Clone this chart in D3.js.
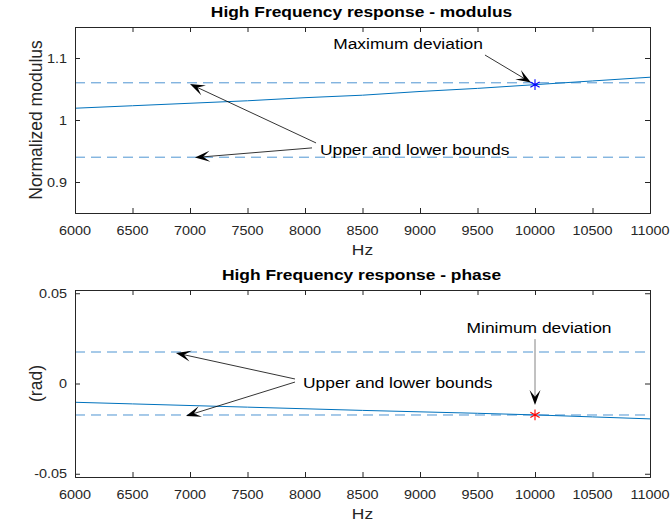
<!DOCTYPE html>
<html>
<head>
<meta charset="utf-8">
<script src="https://cdn.jsdelivr.net/npm/d3@7"></script>
<style>
  body { margin: 0; background: #fff; }
  svg { display: block; font-family: "Liberation Sans", Arial, sans-serif; }
</style>
</head>
<body>
<div class="graph"></div>
<script>
// data
const freqHz = [6000, 6500, 7000, 7500, 8000, 8500, 9000, 9500, 10000, 10500, 11000];
const modulusValues = [1.019, 1.023, 1.027, 1.031, 1.036, 1.040, 1.046, 1.051, 1.057, 1.063, 1.069];
const phaseValues = [-0.0104, -0.0113, -0.0122, -0.0131, -0.0140, -0.0149, -0.0157, -0.0165, -0.0174, -0.0185, -0.0196];
const modulusBounds = [0.94, 1.06];
const phaseBounds = [-0.01745, 0.01745];
const maxDeviation = [10000, 1.057];
const minDeviation = [10000, -0.0174];
const xTicks = [6000, 6500, 7000, 7500, 8000, 8500, 9000, 9500, 10000, 10500, 11000];
const modulusTicks = [0.9, 1, 1.1];
const modulusTickLabels = ["0.9", "1", "1.1"];
const phaseTicks = [-0.05, 0, 0.05];
const phaseTickLabels = ["-0.05", "0", "0.05"];

const width = 670, height = 529;
const left = 75, right = 650;
const sx = 1.2; // text in the picture is a bit wider than normal

const svg = d3.select(".graph").append("svg")
  .attr("width", width).attr("height", height);
svg.append("rect").attr("width", width).attr("height", height).attr("fill", "#fff");

function addText(g, x, y, str, opts) {
  return g.append("text")
    .attr("transform", "translate(" + x + "," + y + ") scale(" + sx + ",1)")
    .attr("text-anchor", opts.anchor || "middle")
    .attr("font-size", opts.size || 12)
    .attr("font-weight", opts.bold ? "bold" : null)
    .attr("fill", opts.color || "#262626")
    .text(str);
}

function arrow(g, x0, y0, x1, y1, color) {
  const ang = Math.atan2(y1 - y0, x1 - x0);
  const L = 15, W = 11, notch = 0.55 * L;
  const bx = x1 - Math.cos(ang) * notch, by = y1 - Math.sin(ang) * notch;
  g.append("line")
    .attr("x1", x0).attr("y1", y0).attr("x2", bx).attr("y2", by)
    .attr("stroke", color || "#000").attr("stroke-width", 0.8);
  g.append("path")
    .attr("d", "M0,0L" + (-L) + "," + (-W / 2) + "L" + (-notch) + ",0L" + (-L) + "," + (W / 2) + "Z")
    .attr("transform", "translate(" + x1 + "," + y1 + ") rotate(" + (ang * 180 / Math.PI) + ")")
    .attr("fill", "#000");
}

function panel(cfg) {
  const g = svg.append("g");
  const x = d3.scaleLinear().domain([6000, 11000]).range([left, right]);
  const y = d3.scaleLinear().domain(cfg.domain).range([cfg.bottom, cfg.top]);

  // bounds (dashed)
  cfg.bounds.forEach(b => {
    g.append("line")
      .attr("x1", x(6000)).attr("x2", x(11000)).attr("y1", y(b)).attr("y2", y(b))
      .attr("stroke", "#4f95d2").attr("stroke-width", 1).attr("stroke-dasharray", "10,6");
  });

  // response curve
  g.append("path")
    .datum(freqHz.map((f, i) => [f, cfg.values[i]]))
    .attr("fill", "none").attr("stroke", "#0072bd").attr("stroke-width", 1)
    .attr("d", d3.line().x(d => x(d[0])).y(d => y(d[1])));

  // axes with inward ticks
  const ax = g.append("g").attr("color", "#262626");
  ax.append("g").attr("transform", "translate(0," + cfg.bottom + ")")
    .call(d3.axisBottom(x).tickValues(xTicks).tickSize(-5).tickFormat(""));
  ax.append("g").attr("transform", "translate(0," + cfg.top + ")")
    .call(d3.axisTop(x).tickValues(xTicks).tickSize(-5).tickFormat(""));
  ax.append("g").attr("transform", "translate(" + left + ",0)")
    .call(d3.axisLeft(y).tickValues(cfg.ticks).tickSize(-5).tickFormat(""));
  ax.append("g").attr("transform", "translate(" + right + ",0)")
    .call(d3.axisRight(y).tickValues(cfg.ticks).tickSize(-5).tickFormat(""));
  ax.selectAll(".domain").attr("stroke-width", 1);

  xTicks.forEach(t => addText(g, x(t), cfg.bottom + 21.5, String(t), {size: 12}));
  cfg.ticks.forEach((t, i) => addText(g, left - 8, y(t) + 4.5, cfg.tickLabels[i], {size: 12, anchor: "end"}));

  addText(g, (left + right) / 2, cfg.bottom + 42, "Hz", {size: 14.5});
  addText(g, (left + right) / 2 - 1, cfg.top - 10, cfg.title, {size: 14.5, bold: true, color: "#000"});
  g.append("text")
    .attr("transform", "translate(42," + ((cfg.top + cfg.bottom) / 2) + ") rotate(-90)")
    .attr("text-anchor", "middle").attr("font-size", 17.5).attr("fill", "#262626")
    .text(cfg.ylabel);

  // annotations
  cfg.notes.forEach(n => addText(g, x(n.at[0]), y(n.at[1]), n.text, {size: 14.5, anchor: n.anchor, color: "#000"}));
  cfg.arrows.forEach(a => arrow(g, x(a[0]), y(a[1]), x(a[2]), y(a[3]), a[4]));

  // marker
  g.append("path")
    .attr("d", d3.symbol(d3.symbolAsterisk, 80)())
    .attr("transform", "translate(" + x(cfg.marker[0]) + "," + y(cfg.marker[1]) + ")")
    .attr("fill", "none").attr("stroke", cfg.markerColor).attr("stroke-width", 1.1);
}

panel({
  top: 27, bottom: 213, domain: [0.85, 1.15],
  values: modulusValues, bounds: modulusBounds,
  ticks: modulusTicks, tickLabels: modulusTickLabels,
  title: "High Frequency response - modulus", ylabel: "Normalized modulus",
  marker: maxDeviation, markerColor: "#0000ff",
  notes: [
    {text: "Maximum deviation", at: [8896, 1.1145], anchor: "middle"},
    {text: "Upper and lower bounds", at: [8130, 0.9435], anchor: "start"}
  ],
  arrows: [
    [9565, 1.1048, 9965, 1.0605],
    [8096, 0.963, 7000, 1.058],
    [8061, 0.955, 7043, 0.9395]
  ]
});

panel({
  top: 290, bottom: 477, domain: [-0.0518, 0.0518],
  values: phaseValues, bounds: phaseBounds,
  ticks: phaseTicks, tickLabels: phaseTickLabels,
  title: "High Frequency response - phase", ylabel: "(rad)",
  marker: minDeviation, markerColor: "#ff0000",
  notes: [
    {text: "Minimum deviation", at: [10035, 0.028], anchor: "middle"},
    {text: "Upper and lower bounds", at: [7983, -0.0025], anchor: "start"}
  ],
  arrows: [
    [10000, 0.0246, 10000, -0.0119, "#666"],
    [7913, 0.0025, 6878, 0.0169],
    [7913, 0.0008, 6965, -0.018]
  ]
});
</script>
</body>
</html>
